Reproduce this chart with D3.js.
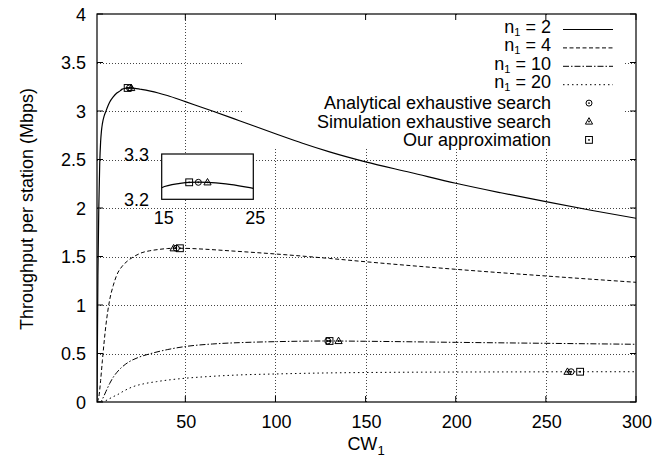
<!DOCTYPE html>
<html><head><meta charset="utf-8">
<script src="https://cdn.jsdelivr.net/npm/d3@7"></script>
<style>body{margin:0;background:#fff} text{font-family:"Liberation Sans",Arial,sans-serif;fill:#000}</style>
</head><body><svg id="c" width="655" height="459"></svg>
<script>
// ---- data ----
const cwN2  = [1, 1.5, 2, 2.5, 3, 3.5, 4, 5, 6, 7, 8, 10, 12, 14, 15, 17, 18, 19, 20, 22, 25, 30, 35, 40, 50, 65, 80, 100, 115, 130, 150, 175, 200, 225, 250, 275, 300];
const thrN2 = [0, 1.3, 2.0, 2.45, 2.68, 2.8, 2.87, 2.95, 3.0, 3.05, 3.09, 3.145, 3.185, 3.21, 3.2256, 3.235, 3.2375, 3.238, 3.2375, 3.234, 3.2243, 3.207, 3.186, 3.16, 3.096, 3.0, 2.9, 2.765, 2.667, 2.578, 2.475, 2.366, 2.255, 2.157, 2.065, 1.977, 1.894];
const cwN4  = [1, 2, 3, 4, 6, 8, 10, 12, 15, 18, 22, 26, 30, 35, 40, 45, 50, 60, 75, 100, 130, 150, 200, 250, 300];
const thrN4 = [0, 0.05, 0.22, 0.43, 0.80, 1.05, 1.20, 1.31, 1.40, 1.455, 1.505, 1.54, 1.558, 1.572, 1.582, 1.585, 1.584, 1.576, 1.558, 1.526, 1.48, 1.446, 1.368, 1.299, 1.234];
const cwN10  = [1, 3, 4, 6, 8, 10, 12, 14, 18, 24, 30, 40, 50, 65, 80, 100, 130, 150, 200, 250, 300];
const thrN10 = [0, 0.0, 0.03, 0.11, 0.19, 0.255, 0.305, 0.345, 0.405, 0.46, 0.495, 0.54, 0.572, 0.598, 0.612, 0.622, 0.629, 0.626, 0.615, 0.605, 0.595];
const cwN20  = [1, 4, 6, 8, 10, 12, 16, 21, 27, 34, 42, 50, 65, 80, 100, 130, 150, 200, 250, 265, 300];
const thrN20 = [0, 0.0, 0.015, 0.035, 0.055, 0.072, 0.115, 0.158, 0.188, 0.21, 0.23, 0.245, 0.265, 0.279, 0.289, 0.300, 0.304, 0.309, 0.311, 0.312, 0.312];

const analyticalCW  = [19, 45, 129, 264];
const analyticalThr = [3.2375, 1.585, 0.629, 0.312];
const simulationCW  = [20, 43.5, 135, 262];
const simulationThr = [3.2375, 1.585, 0.629, 0.312];
const approxCW      = [18, 47, 130, 269];
const approxThr     = [3.2375, 1.585, 0.629, 0.312];

const xTicks = [50, 100, 150, 200, 250, 300];
const yTicks = [0, 0.5, 1, 1.5, 2, 2.5, 3, 3.5, 4];
const insetXTicks = [15, 25];
const insetYTicks = [3.2, 3.3];
const seriesN = ["2", "4", "10", "20"];
const markerNames = ["Analytical exhaustive search", "Simulation exhaustive search", "Our approximation"];

// ---- drawing ----
const svg = d3.select("#c");
svg.append("rect").attr("width", 655).attr("height", 459).attr("fill", "#fff");
const FS = 18;
const x = d3.scaleLinear().domain([1, 300]).range([97, 636]);
const y = d3.scaleLinear().domain([0, 4]).range([402, 14]);
const dashes = [null, "4,2.5", "6,2,1.5,2", "1.5,3"];

// grid
const grid = svg.append("g").attr("stroke", "#444").attr("stroke-width", 1).attr("stroke-dasharray", "1,2");
yTicks.filter(v => v > 0 && v < 4).forEach(v => grid.append("line").attr("x1", x(1)).attr("x2", x(300)).attr("y1", Math.round(y(v)) + 0.5).attr("y2", Math.round(y(v)) + 0.5));
xTicks.filter(v => v < 300).forEach(v => grid.append("line").attr("x1", Math.round(x(v)) + 0.5).attr("x2", Math.round(x(v)) + 0.5).attr("y1", y(0)).attr("y2", y(4)));

// legend background
svg.append("rect").attr("x", 242).attr("y", 15).attr("width", 383).attr("height", 134).attr("fill", "#fff");

// inset scales & background
const ix = d3.scaleLinear().domain([15, 25]).range([161.7, 253.3]);
const iy = d3.scaleLinear().domain([3.2, 3.3]).range([199.3, 154]);
svg.append("rect").attr("x", 161.7).attr("y", 154).attr("width", 91.6).attr("height", 45.3).attr("fill", "#fff");

// clip
svg.append("clipPath").attr("id", "pc").append("rect").attr("x", 97).attr("y", 14).attr("width", 539).attr("height", 388);
svg.append("clipPath").attr("id", "ic").append("rect").attr("x", 161.7).attr("y", 154).attr("width", 91.6).attr("height", 45.3);

const series = [[cwN2, thrN2], [cwN4, thrN4], [cwN10, thrN10], [cwN20, thrN20]];
const line = d3.line().x(d => x(d[0])).y(d => y(d[1])).curve(d3.curveMonotoneX);
const cg = svg.append("g").attr("clip-path", "url(#pc)");
series.forEach((s, i) => {
  const pts = s[0].map((c, k) => [c, s[1][k]]);
  cg.append("path").attr("d", line(pts)).attr("fill", "none").attr("stroke", "#000")
    .attr("stroke-width", i === 0 ? 1.2 : 1).attr("stroke-dasharray", dashes[i]);
});

// markers
function circ(g, cx, cy) {
  g.append("circle").attr("cx", cx).attr("cy", cy).attr("r", 3).attr("fill", "none").attr("stroke", "#000").attr("stroke-width", 1);
  g.append("circle").attr("cx", cx).attr("cy", cy).attr("r", 0.9).attr("fill", "#000");
}
function tri(g, cx, cy) {
  g.append("path").attr("d", `M${cx},${cy - 3.8}L${cx + 3.6},${cy + 2.6}L${cx - 3.6},${cy + 2.6}Z`).attr("fill", "none").attr("stroke", "#000").attr("stroke-width", 1);
  g.append("circle").attr("cx", cx).attr("cy", cy).attr("r", 0.9).attr("fill", "#000");
}
function sq(g, cx, cy) {
  g.append("rect").attr("x", cx - 3.4).attr("y", cy - 3.4).attr("width", 6.8).attr("height", 6.8).attr("fill", "none").attr("stroke", "#000").attr("stroke-width", 1);
  g.append("circle").attr("cx", cx).attr("cy", cy).attr("r", 0.9).attr("fill", "#000");
}
const mg = svg.append("g");
analyticalCW.forEach((c, i) => circ(mg, x(c), y(analyticalThr[i])));
simulationCW.forEach((c, i) => tri(mg, x(c), y(simulationThr[i])));
approxCW.forEach((c, i) => sq(mg, x(c), y(approxThr[i])));

// border
svg.append("rect").attr("x", 97).attr("y", 14).attr("width", 539).attr("height", 388).attr("fill", "none").attr("stroke", "#000").attr("stroke-width", 1.2);
// ticks (mirror, inward)
const tg = svg.append("g").attr("stroke", "#000").attr("stroke-width", 1);
xTicks.forEach(v => {
  tg.append("line").attr("x1", x(v)).attr("x2", x(v)).attr("y1", 402).attr("y2", 396);
  tg.append("line").attr("x1", x(v)).attr("x2", x(v)).attr("y1", 14).attr("y2", 20);
});
yTicks.forEach(v => {
  tg.append("line").attr("x1", 97).attr("x2", 103).attr("y1", y(v)).attr("y2", y(v));
  tg.append("line").attr("x1", 636).attr("x2", 630).attr("y1", y(v)).attr("y2", y(v));
});
// tick labels
yTicks.forEach(v => svg.append("text").attr("x", 86).attr("y", y(v) + 6.5).attr("text-anchor", "end").attr("font-size", FS).text(String(v)));
xTicks.forEach(v => svg.append("text").attr("x", x(v) + 1).attr("y", 428).attr("text-anchor", "middle").attr("font-size", FS).text(String(v)));

// axis titles
svg.append("text").attr("transform", "translate(33,209) rotate(-90)").attr("text-anchor", "middle").attr("font-size", FS).text("Throughput per station (Mbps)");
const xt = svg.append("text").attr("x", 366).attr("y", 450).attr("text-anchor", "middle").attr("font-size", FS);
xt.append("tspan").text("CW");
xt.append("tspan").attr("font-size", 13).attr("dy", 5).text("1");

// inset
const ig = svg.append("g");
ig.append("path").attr("clip-path", "url(#ic)")
  .attr("d", d3.line().x(d => ix(d[0])).y(d => iy(d[1])).curve(d3.curveMonotoneX)(cwN2.map((c, k) => [c, thrN2[k]]).filter(d => d[0] >= 14 && d[0] <= 35)))
  .attr("fill", "none").attr("stroke", "#000").attr("stroke-width", 1.2);
circ(ig, ix(analyticalCW[0]), iy(analyticalThr[0]));
tri(ig, ix(simulationCW[0]), iy(simulationThr[0]));
sq(ig, ix(approxCW[0]), iy(approxThr[0]));
ig.append("rect").attr("x", 161.7).attr("y", 154).attr("width", 91.6).attr("height", 45.3).attr("fill", "none").attr("stroke", "#000").attr("stroke-width", 1.2);
insetYTicks.forEach(v => ig.append("text").attr("x", 149).attr("y", iy(v) + 7).attr("text-anchor", "end").attr("font-size", FS).text(v.toFixed(1)));
insetXTicks.forEach(v => ig.append("text").attr("x", ix(v) + 2).attr("y", 224).attr("text-anchor", "middle").attr("font-size", FS).text(String(v)));

// legend
const lg = svg.append("g");
const rowY = i => 29.5 + i * 18.4;
seriesN.forEach((n, i) => {
  const t = lg.append("text").attr("x", 551).attr("y", rowY(i) + 3.5).attr("text-anchor", "end").attr("font-size", FS);
  t.append("tspan").text("n");
  t.append("tspan").attr("font-size", 11).attr("baseline-shift", "-2.5").text("1");
  t.append("tspan").text(" = " + n);
  lg.append("line").attr("x1", 563).attr("x2", 613).attr("y1", rowY(i)).attr("y2", rowY(i))
    .attr("stroke", "#000").attr("stroke-width", i === 0 ? 1.2 : 1).attr("stroke-dasharray", dashes[i]);
});
markerNames.forEach((name, j) => {
  const i = j + 4;
  lg.append("text").attr("x", 551).attr("y", rowY(i) + 6).attr("text-anchor", "end").attr("font-size", FS).text(name);
  [circ, tri, sq][j](lg, 589, rowY(i));
});
</script></body></html>
